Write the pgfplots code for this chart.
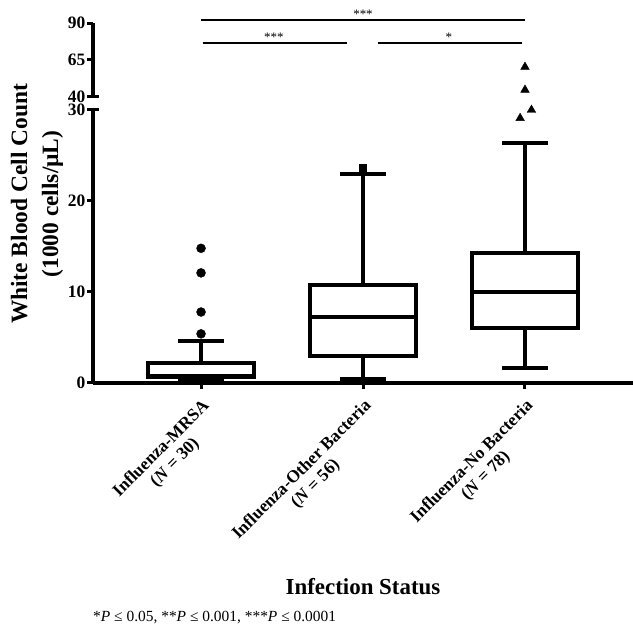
\documentclass[border=0pt]{standalone}
\usepackage{pgfplots}
\pgfplotsset{compat=1.18}
\usepgfplotslibrary{statistics}
\usepackage{fontspec}
\setmainfont{Liberation Serif}

\begin{document}
\begin{tikzpicture}[x=1bp,y=1bp]
\useasboundingbox (0,0) rectangle (633,625);
\pgfplotsset{
  brk/.style={
    scale only axis, width=540bp,
    xmin=0.333, xmax=3.667, clip=false,
    /pgf/number format/assume math mode=true,
    tick align=outside, major tick length=6bp,
    axis line style={line width=3.5bp},
    every tick/.style={black, line width=3bp},
    yticklabel style={font=\bfseries\fontsize{17.5}{17.5}\selectfont, inner sep=1.5bp},
  },
  bx/.style={
    black, line width=4bp, solid, mark=none,
    boxplot/draw direction=y,
    boxplot/box extend=0.65,
    boxplot/whisker extend=0.28,
  },
}

% lower segment, 0 to 30
\begin{axis}[brk,
    at={(93bp,242bp)}, anchor=south west, height=273bp,
    ymin=0, ymax=30, ytick={0,10,20,30},
    axis x line*=bottom, axis y line*=left,
    xtick={1,2,3},
    xticklabels={
      {Influenza-MRSA\\(\textit{N} = 30)},
      {Influenza-Other Bacteria\\(\textit{N} = 56)},
      {Influenza-No Bacteria\\(\textit{N} = 78)}},
    xticklabel shift=6bp,
    xticklabel style={rotate=45, anchor=north east, align=center,
      font=\bfseries\fontsize{17.5}{19.5}\selectfont, inner sep=2bp},
  ]
  \addplot[bx, boxplot prepared={draw position=1,
      lower whisker=0.2, lower quartile=0.7, median=0.8,
      upper quartile=2.2, upper whisker=4.6}] coordinates {};
  \addplot[bx, boxplot prepared={draw position=2,
      lower whisker=0.4, lower quartile=3.0, median=7.3,
      upper quartile=10.8, upper whisker=23.0}] coordinates {};
  \addplot[bx, boxplot prepared={draw position=3,
      lower whisker=1.7, lower quartile=6.0, median=10.0,
      upper quartile=14.3, upper whisker=26.4}] coordinates {};
  % outliers
  \addplot[only marks, mark=*, mark size=4.5bp, black]
    coordinates {(1,5.4) (1,7.8) (1,12.1) (1,14.8)};
  \addplot[only marks, mark=square*, mark size=3.5bp, black]
    coordinates {(2,23.7)};
  \addplot[only marks, mark=triangle*, mark size=5bp, black]
    coordinates {(2.97,29.1) (3.04,30.0)};
  % break mark
  \draw[line width=3bp] ([xshift=-6bp]rel axis cs:0,1) -- ([xshift=6bp]rel axis cs:0,1);
\end{axis}

% upper segment, 40 to 90
\begin{axis}[brk,
    at={(93bp,528.3bp)}, anchor=south west, height=73.4bp,
    ymin=40, ymax=90, ytick={40,65,90},
    axis y line*=left, axis x line=none,
  ]
  \addplot[only marks, mark=triangle*, mark size=5bp, black]
    coordinates {(3,44.6) (3,60.2)};
  % significance bars
  \addplot[black, line width=2.5bp, mark=none] coordinates {(1,92.2) (3,92.2)};
  \addplot[black, line width=2.5bp, mark=none] coordinates {(1.01,76.6) (1.90,76.6)};
  \addplot[black, line width=2.5bp, mark=none] coordinates {(2.09,76.6) (2.98,76.6)};
  \node[anchor=south, inner sep=1bp, font=\fontsize{13}{13}\selectfont] at (axis cs:2,92.2) {***};
  \node[anchor=south, inner sep=1bp, font=\fontsize{13}{13}\selectfont] at (axis cs:1.45,76.6) {***};
  \node[anchor=south, inner sep=1bp, font=\fontsize{13}{13}\selectfont] at (axis cs:2.53,76.6) {*};
  \draw[line width=3bp] ([xshift=-6bp]rel axis cs:0,0) -- ([xshift=6bp]rel axis cs:0,0);
\end{axis}

% y label spanning both segments
\node[rotate=90, align=center, font=\bfseries\fontsize{23.5}{31}\selectfont]
  at (37,421) {White Blood Cell Count\\(1000 cells/µL)};
\node[font=\bfseries\fontsize{23}{23}\selectfont] at (363,38) {Infection Status};
\node[anchor=west, font=\fontsize{15.5}{15.5}\selectfont, inner sep=0pt] at (93,7)
  {*\textit{P} ≤ 0.05, **\textit{P} ≤ 0.001, ***\textit{P} ≤ 0.0001};
\end{tikzpicture}
\end{document}
